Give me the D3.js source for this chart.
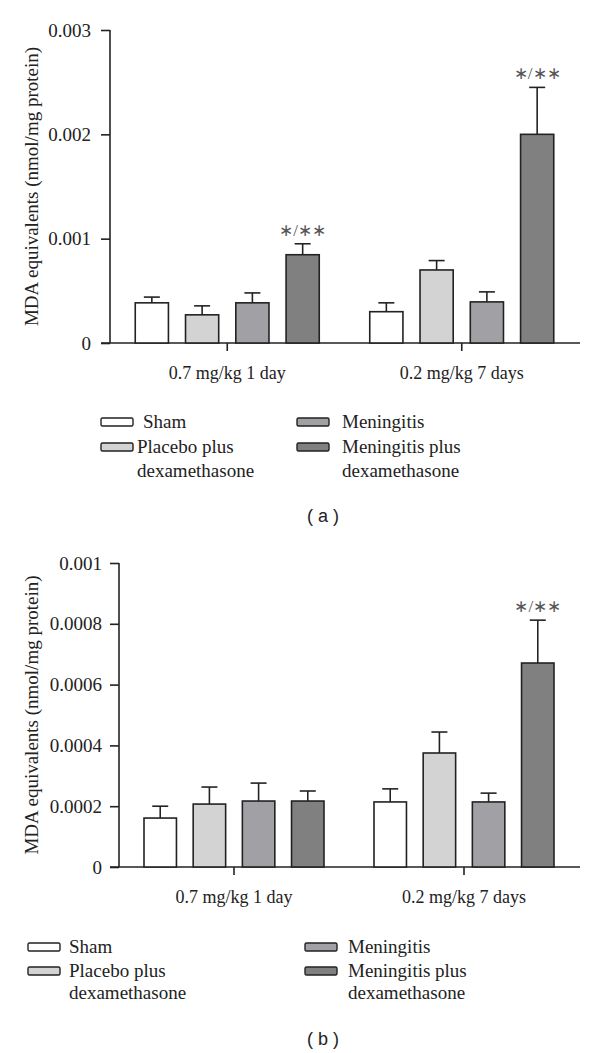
<!DOCTYPE html>
<html>
<head>
<meta charset="utf-8">
<script src="https://cdn.jsdelivr.net/npm/d3@7.9.0/dist/d3.min.js"></script>
<style>
  body { margin: 0; background: #fff; }
  svg text { font-family: "Liberation Serif", "Times New Roman", serif; fill: #222; }
  svg text.letter { font-family: "Liberation Sans", Arial, sans-serif; }
</style>
</head>
<body>
<svg id="chart" width="600" height="1053"></svg>
<script>
// Data
const groups = ["0.7 mg/kg 1 day", "0.2 mg/kg 7 days"];
const series = ["Sham", "Placebo plus dexamethasone", "Meningitis", "Meningitis plus dexamethasone"];
const legendLines = [["Sham"], ["Placebo plus", "dexamethasone"], ["Meningitis"], ["Meningitis plus", "dexamethasone"]];
const fills = ["#ffffff", "#d3d3d3", "#a1a1a5", "#808080"];

// panel (a)
const meansA = [[0.000385, 0.00027, 0.000385, 0.000846], [0.0003, 0.0007, 0.000394, 0.002]];
const errA = [[0.000055, 0.000086, 0.000095, 0.000105], [0.000085, 0.00009, 0.000096, 0.00045]];
const sigA = [["", "", "", "∗/∗∗"], ["", "", "", "∗/∗∗"]];
const ticksA = [0, 0.001, 0.002, 0.003];

// panel (b)
const meansB = [[0.000161, 0.000207, 0.000217, 0.000217], [0.000214, 0.000375, 0.000214, 0.000671]];
const errB = [[0.000039, 0.000056, 0.000059, 0.000033], [0.000043, 0.000069, 0.000029, 0.000141]];
const sigB = [["", "", "", ""], ["", "", "", "∗/∗∗"]];
const ticksB = [0, 0.0002, 0.0004, 0.0006, 0.0008, 0.001];

const svg = d3.select("#chart");

function drawPanel(cfg) {
  const g = svg.append("g");
  const y = d3.scaleLinear().domain(cfg.yDomain).range([cfg.y0, cfg.y1]);
  const xg = d3.scalePoint().domain(groups).range([cfg.x0, 579]).padding(0.5);
  const xs = d3.scaleBand().domain(series).range([-cfg.half, cfg.half]).paddingInner(0.34);

  // y axis
  const yAxis = g.append("g")
    .attr("transform", `translate(${cfg.x0},0)`)
    .call(d3.axisLeft(y).tickValues(cfg.ticks).tickSize(9).tickPadding(cfg.tickPad)
      .tickFormat((d) => d === 0 ? "0" : String(+d.toFixed(4))));
  yAxis.select(".domain").attr("d", `M0,${cfg.y0}V${cfg.y1}`);
  yAxis.selectAll("line, path").attr("stroke", "#222").attr("stroke-width", 1.6);
  yAxis.selectAll("text").attr("font-size", 19).attr("fill", "#222");

  // x axis line + category ticks
  g.append("line")
    .attr("x1", cfg.x0 - 9).attr("x2", 580)
    .attr("y1", cfg.y0).attr("y2", cfg.y0)
    .attr("stroke", "#222").attr("stroke-width", 1.6);
  groups.forEach((grp) => {
    g.append("line")
      .attr("x1", xg(grp)).attr("x2", xg(grp))
      .attr("y1", cfg.y0).attr("y2", cfg.y0 + 8)
      .attr("stroke", "#222").attr("stroke-width", 1.6);
    g.append("text")
      .attr("x", xg(grp)).attr("y", cfg.y0 + 36)
      .attr("text-anchor", "middle").attr("font-size", 18)
      .text(grp);
  });

  // bars with error bars
  groups.forEach((grp, gi) => {
    series.forEach((s, si) => {
      const v = cfg.means[gi][si];
      const e = cfg.errs[gi][si];
      const cx = xg(grp) + xs(s) + xs.bandwidth() / 2;
      g.append("line")
        .attr("x1", cx).attr("x2", cx)
        .attr("y1", y(v)).attr("y2", y(v + e))
        .attr("stroke", "#222").attr("stroke-width", 1.6);
      g.append("line")
        .attr("x1", cx - 8).attr("x2", cx + 8)
        .attr("y1", y(v + e)).attr("y2", y(v + e))
        .attr("stroke", "#222").attr("stroke-width", 1.6);
      g.append("rect")
        .attr("x", xg(grp) + xs(s))
        .attr("y", y(v))
        .attr("width", xs.bandwidth())
        .attr("height", cfg.y0 - y(v))
        .attr("fill", fills[si])
        .attr("stroke", "#222").attr("stroke-width", 1.6);
      if (cfg.sig[gi][si]) {
        g.append("text")
          .attr("x", cx).attr("y", y(v + e) - 8)
          .attr("text-anchor", "middle").attr("font-size", 17)
          .style("fill", "#555")
          .text(cfg.sig[gi][si]);
      }
    });
  });

  // y axis title
  g.append("text")
    .attr("transform", `translate(${cfg.titleX},${(cfg.y0 + cfg.y1) / 2}) rotate(-90)`)
    .attr("text-anchor", "middle").attr("font-size", 19)
    .text("MDA equivalents (nmol/mg protein)");

  // legend
  legendLines.forEach((lines, si) => {
    const col = si < 2 ? 0 : 1;
    const row = si % 2;
    const sx = cfg.legX[col];
    const base = cfg.legY[row];
    g.append("rect")
      .attr("x", sx).attr("y", base - 10)
      .attr("width", 32).attr("height", 8)
      .attr("rx", 1.5)
      .attr("fill", fills[si])
      .attr("stroke", "#222").attr("stroke-width", 1.4);
    const dx = si === 0 ? cfg.shamDx : 0;
    lines.forEach((ln, li) => {
      g.append("text")
        .attr("x", sx + cfg.legGap[col] + dx).attr("y", base + li * cfg.legLine)
        .attr("font-size", 19)
        .text(ln);
    });
  });

  // panel letter
  g.append("text")
    .attr("class", "letter")
    .attr("x", 323).attr("y", cfg.letterY)
    .attr("text-anchor", "middle")
    .attr("font-size", 18)
    .style("white-space", "pre")
    .text(cfg.letter);
}

drawPanel({
  yDomain: [0, 0.003], y0: 343, y1: 30, x0: 110, half: 92, tickPad: 10,
  ticks: ticksA, means: meansA, errs: errA, sig: sigA, titleX: 38,
  legX: [101, 297], legY: [428, 453], legLine: 24, legGap: [36, 45], shamDx: 6,
  letter: "( a )", letterY: 522
});

drawPanel({
  yDomain: [0, 0.001], y0: 867, y1: 563, x0: 119, half: 90, tickPad: 8,
  ticks: ticksB, means: meansB, errs: errB, sig: sigB, titleX: 38,
  legX: [28, 305], legY: [953, 977], legLine: 22, legGap: [41, 43], shamDx: 0,
  letter: "( b )", letterY: 1045
});
</script>
</body>
</html>
